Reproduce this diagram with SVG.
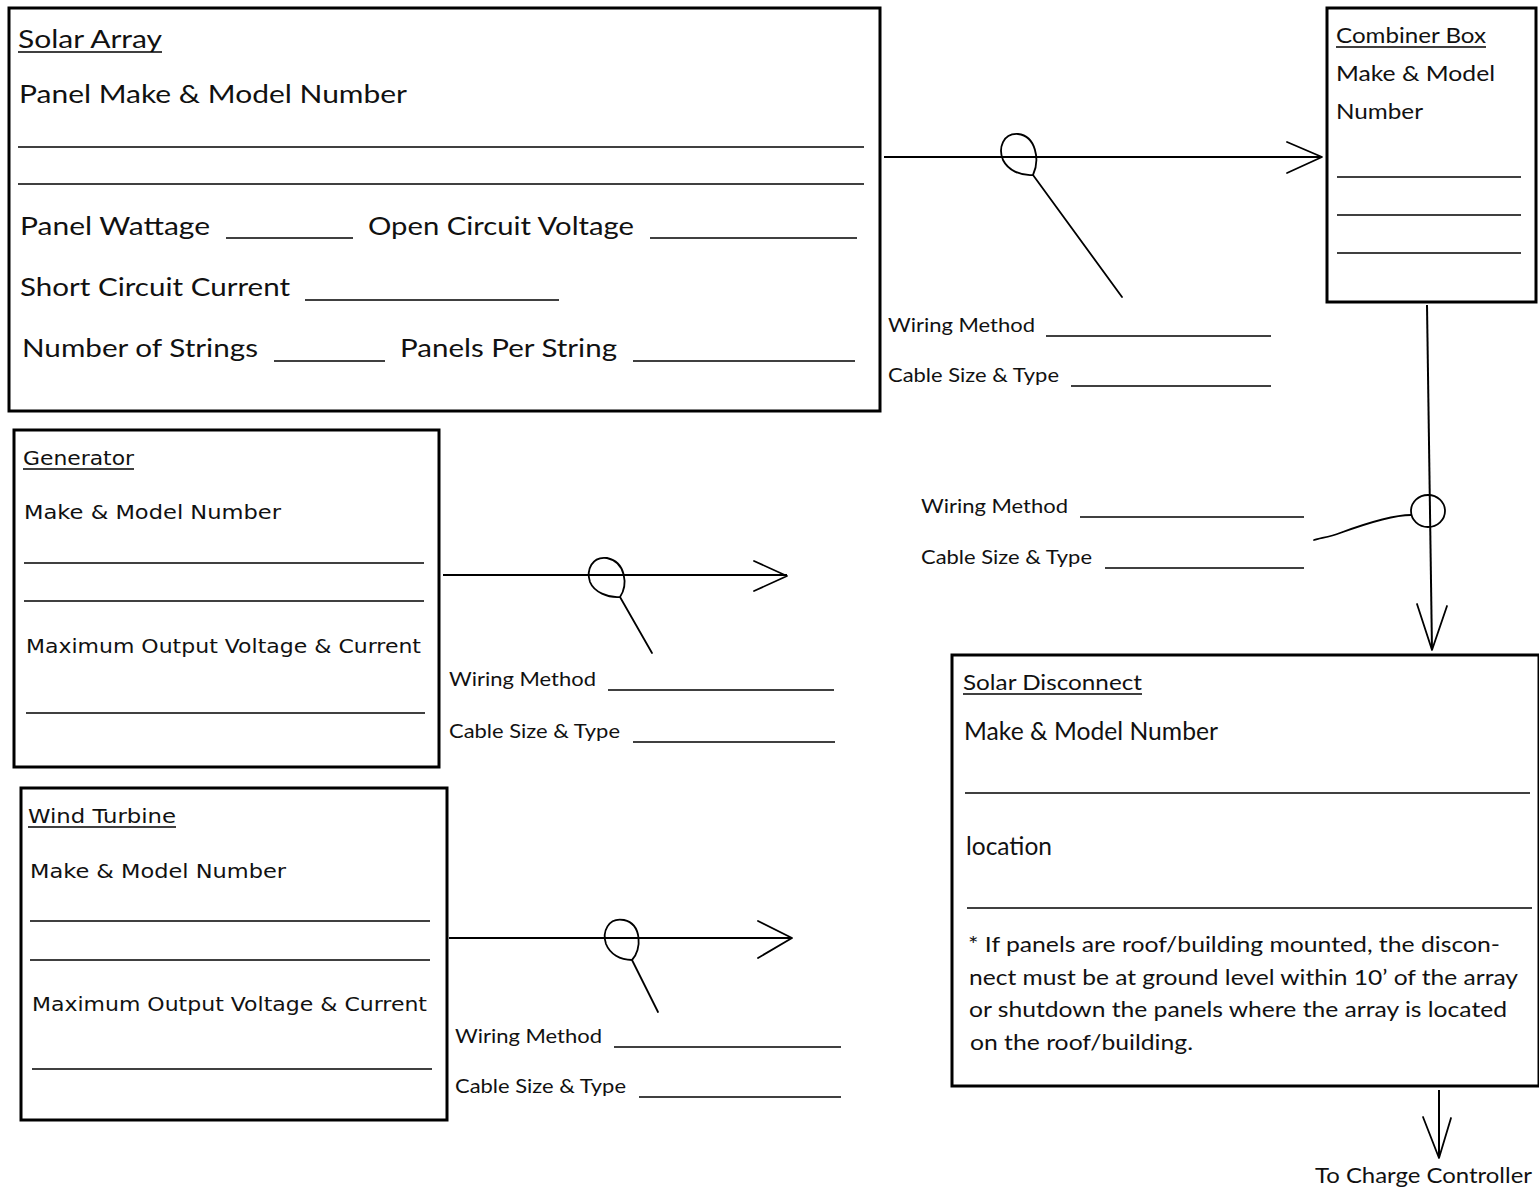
<svg xmlns="http://www.w3.org/2000/svg" width="1539" height="1188" viewBox="0 0 1539 1188">
<style>
.box{fill:none;stroke:#000;stroke-width:3}
.ln{stroke:#000;stroke-width:1.6;fill:none}
.wire{stroke:#000;stroke-width:2;fill:none}
.hand{stroke:#000;stroke-width:1.8;fill:none;stroke-linecap:round;stroke-linejoin:round}
.t1{font-family:Lato,"Open Sans",sans-serif;font-size:25px;fill:#111}
.t2{font-family:Lato,"Open Sans",sans-serif;font-size:21px;fill:#111}
.t3{font-family:Lato,"Open Sans",sans-serif;font-size:19px;fill:#111}
.t4{font-family:"DejaVu Sans",Verdana,sans-serif;font-size:19px;fill:#111}
</style>
<rect width="1539" height="1188" fill="#fff"/>

<g id="solar-array">
<rect class="box" x="9" y="8" width="871" height="403"/>
<text class="t1" x="18" y="48" textLength="144" lengthAdjust="spacingAndGlyphs">Solar Array</text>
<line class="ln" x1="18" y1="52" x2="162" y2="52"/>
<text class="t1" x="19" y="103" textLength="388" lengthAdjust="spacingAndGlyphs">Panel Make &amp; Model Number</text>
<line class="ln" x1="18" y1="147" x2="864" y2="147"/>
<line class="ln" x1="18" y1="184" x2="864" y2="184"/>
<text class="t1" x="20" y="235" textLength="190" lengthAdjust="spacingAndGlyphs">Panel Wattage</text>
<line class="ln" x1="226" y1="238" x2="353" y2="238"/>
<text class="t1" x="368" y="235" textLength="266" lengthAdjust="spacingAndGlyphs">Open Circuit Voltage</text>
<line class="ln" x1="650" y1="238" x2="857" y2="238"/>
<text class="t1" x="20" y="296" textLength="270" lengthAdjust="spacingAndGlyphs">Short Circuit Current</text>
<line class="ln" x1="305" y1="300" x2="559" y2="300"/>
<text class="t1" x="22" y="357" textLength="236" lengthAdjust="spacingAndGlyphs">Number of Strings</text>
<line class="ln" x1="274" y1="361" x2="385" y2="361"/>
<text class="t1" x="400" y="357" textLength="217" lengthAdjust="spacingAndGlyphs">Panels Per String</text>
<line class="ln" x1="633" y1="361" x2="855" y2="361"/>
</g>

<g id="combiner-box">
<rect class="box" x="1327" y="8" width="209" height="294"/>
<text class="t2" x="1336" y="43" textLength="150" lengthAdjust="spacingAndGlyphs">Combiner Box</text>
<line class="ln" x1="1336" y1="47" x2="1486" y2="47"/>
<text class="t2" x="1336" y="81" textLength="159" lengthAdjust="spacingAndGlyphs">Make &amp; Model</text>
<text class="t2" x="1336" y="119" textLength="87" lengthAdjust="spacingAndGlyphs">Number</text>
<line class="ln" x1="1337" y1="177" x2="1521" y2="177"/>
<line class="ln" x1="1337" y1="215" x2="1521" y2="215"/>
<line class="ln" x1="1337" y1="253" x2="1521" y2="253"/>
</g>

<g id="generator">
<rect class="box" x="14" y="430" width="425" height="337"/>
<text class="t4" x="23" y="465" textLength="111" lengthAdjust="spacingAndGlyphs">Generator</text>
<line class="ln" x1="23" y1="469" x2="134" y2="469"/>
<text class="t4" x="24" y="519" textLength="257" lengthAdjust="spacingAndGlyphs">Make &amp; Model Number</text>
<line class="ln" x1="24" y1="563" x2="424" y2="563"/>
<line class="ln" x1="24" y1="601" x2="424" y2="601"/>
<text class="t4" x="26" y="653" textLength="395" lengthAdjust="spacingAndGlyphs">Maximum Output Voltage &amp; Current</text>
<line class="ln" x1="26" y1="713" x2="425" y2="713"/>
</g>

<g id="wind-turbine">
<rect class="box" x="21" y="788" width="426" height="332"/>
<text class="t4" x="28" y="823" textLength="148" lengthAdjust="spacingAndGlyphs">Wind Turbine</text>
<line class="ln" x1="28" y1="827" x2="176" y2="827"/>
<text class="t4" x="30" y="878" textLength="256" lengthAdjust="spacingAndGlyphs">Make &amp; Model Number</text>
<line class="ln" x1="30" y1="921" x2="430" y2="921"/>
<line class="ln" x1="30" y1="960" x2="430" y2="960"/>
<text class="t4" x="32" y="1011" textLength="395" lengthAdjust="spacingAndGlyphs">Maximum Output Voltage &amp; Current</text>
<line class="ln" x1="32" y1="1069" x2="432" y2="1069"/>
</g>

<g id="solar-disconnect">
<rect class="box" x="952" y="655" width="587" height="431"/>
<text class="t2" x="963" y="690" textLength="179" lengthAdjust="spacingAndGlyphs">Solar Disconnect</text>
<line class="ln" x1="963" y1="694" x2="1142" y2="694"/>
<text class="t1" x="964" y="740" textLength="254" lengthAdjust="spacingAndGlyphs">Make &amp; Model Number</text>
<line class="ln" x1="965" y1="793" x2="1530" y2="793"/>
<text class="t1" x="966" y="855" textLength="86" lengthAdjust="spacingAndGlyphs">location</text>
<line class="ln" x1="967" y1="908" x2="1532" y2="908"/>
<text class="t2" x="968" y="952" textLength="532" lengthAdjust="spacingAndGlyphs">* If panels are roof/building mounted, the discon-</text>
<text class="t2" x="969" y="985" textLength="549" lengthAdjust="spacingAndGlyphs">nect must be at ground level within 10’ of the array</text>
<text class="t2" x="969" y="1017" textLength="538" lengthAdjust="spacingAndGlyphs">or shutdown the panels where the array is located</text>
<text class="t2" x="970" y="1050" textLength="223" lengthAdjust="spacingAndGlyphs">on the roof/building.</text>
</g>

<g id="connectors">
<!-- Solar array to combiner -->
<line class="wire" x1="884" y1="157" x2="1322" y2="157"/>
<polyline class="hand" points="1287,142 1322,157 1287,173"/>
<path class="hand" d="M1033,175 C1040,160 1036,136 1018,134 C1003,133 998,148 1003,160 C1008,170 1020,176 1033,175 L1122,297"/>
<text class="t3" x="888" y="332" textLength="147" lengthAdjust="spacingAndGlyphs">Wiring Method</text>
<line class="ln" x1="1046" y1="336" x2="1271" y2="336"/>
<text class="t3" x="888" y="382" textLength="171" lengthAdjust="spacingAndGlyphs">Cable Size &amp; Type</text>
<line class="ln" x1="1071" y1="386" x2="1271" y2="386"/>

<!-- Combiner to disconnect -->
<line class="wire" x1="1427" y1="305" x2="1432" y2="650"/>
<polyline class="hand" points="1417,604 1432,650 1447,606"/>
<ellipse class="hand" cx="1428" cy="511" rx="17" ry="16"/>
<path class="hand" d="M1411,515 C1395,515 1370,522 1340,533 C1330,537 1320,538 1314,540"/>
<text class="t3" x="921" y="513" textLength="147" lengthAdjust="spacingAndGlyphs">Wiring Method</text>
<line class="ln" x1="1080" y1="517" x2="1304" y2="517"/>
<text class="t3" x="921" y="564" textLength="171" lengthAdjust="spacingAndGlyphs">Cable Size &amp; Type</text>
<line class="ln" x1="1105" y1="568" x2="1304" y2="568"/>

<!-- Generator -->
<line class="wire" x1="443" y1="575" x2="787" y2="575"/>
<polyline class="hand" points="754,561 787,576 754,591"/>
<path class="hand" d="M620,597 C628,585 626,562 607,558 C592,556 586,570 590,582 C594,592 608,598 620,597 L652,653"/>
<text class="t3" x="449" y="686" textLength="147" lengthAdjust="spacingAndGlyphs">Wiring Method</text>
<line class="ln" x1="608" y1="690" x2="834" y2="690"/>
<text class="t3" x="449" y="738" textLength="171" lengthAdjust="spacingAndGlyphs">Cable Size &amp; Type</text>
<line class="ln" x1="633" y1="742" x2="835" y2="742"/>

<!-- Wind turbine -->
<line class="wire" x1="449" y1="938" x2="792" y2="938"/>
<polyline class="hand" points="758,921 792,938 758,958"/>
<path class="hand" d="M632,960 C642,950 642,924 624,920 C608,917 602,932 606,944 C610,954 620,960 632,960 L658,1012"/>
<text class="t3" x="455" y="1043" textLength="147" lengthAdjust="spacingAndGlyphs">Wiring Method</text>
<line class="ln" x1="614" y1="1047" x2="841" y2="1047"/>
<text class="t3" x="455" y="1093" textLength="171" lengthAdjust="spacingAndGlyphs">Cable Size &amp; Type</text>
<line class="ln" x1="639" y1="1097" x2="841" y2="1097"/>

<!-- To charge controller -->
<line class="wire" x1="1439" y1="1090" x2="1439" y2="1157"/>
<polyline class="hand" points="1423,1117 1439,1158 1451,1118"/>
<text class="t2" x="1315" y="1183" textLength="217" lengthAdjust="spacingAndGlyphs">To Charge Controller</text>
</g>
</svg>
